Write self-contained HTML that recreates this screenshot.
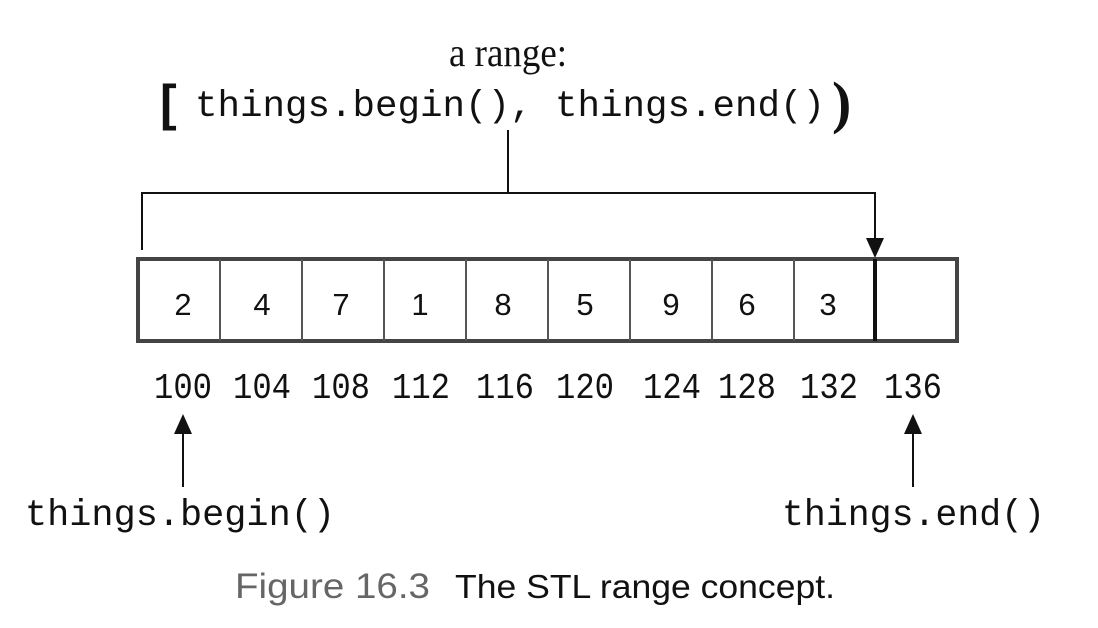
<!DOCTYPE html>
<html><head><style>
html,body{margin:0;padding:0;background:#fff;}
svg{display:block}
.m{font-family:"Liberation Mono",monospace;fill:#111}
</style></head><body>
<svg width="1098" height="628" viewBox="0 0 1098 628" xmlns="http://www.w3.org/2000/svg">
<text x="508" y="66" text-anchor="middle" font-family="Liberation Serif,serif" font-size="40" fill="#111" textLength="118" lengthAdjust="spacingAndGlyphs">a range:</text>
<text x="160" y="120" font-family="Liberation Sans,sans-serif" font-weight="bold" font-size="50" fill="#111">[</text>
<text class="m" x="195" y="116" font-size="37" textLength="630" lengthAdjust="spacingAndGlyphs">things.begin(), things.end()</text>
<text x="832" y="122" font-family="Liberation Serif,serif" font-weight="bold" font-size="58" fill="#111">)</text>
<g stroke="#111" stroke-width="2" fill="none">
<line x1="508" y1="130" x2="508" y2="193"/>
<polyline points="142,250 142,193 875,193 875,242"/>
</g>
<polygon points="866,238 884,238 875,258" fill="#111"/>
<rect x="138" y="259" width="819" height="82" fill="#fff" stroke="#444" stroke-width="4"/>
<g stroke="#555" stroke-width="2">
<line x1="220" y1="259" x2="220" y2="341"/><line x1="302" y1="259" x2="302" y2="341"/>
<line x1="384" y1="259" x2="384" y2="341"/><line x1="466" y1="259" x2="466" y2="341"/>
<line x1="548" y1="259" x2="548" y2="341"/><line x1="630" y1="259" x2="630" y2="341"/>
<line x1="712" y1="259" x2="712" y2="341"/><line x1="794" y1="259" x2="794" y2="341"/>
</g>
<line x1="875" y1="259" x2="875" y2="341" stroke="#111" stroke-width="4"/>
<g font-family="Liberation Sans,sans-serif" font-size="31" fill="#111" text-anchor="middle">
<text x="183" y="315">2</text><text x="262" y="315">4</text><text x="341" y="315">7</text>
<text x="420" y="315">1</text><text x="503" y="315">8</text><text x="585" y="315">5</text>
<text x="671" y="315">9</text><text x="747" y="315">6</text><text x="828" y="315">3</text>
</g>
<g class="m" font-size="36" text-anchor="middle">
<text x="183" y="398" textLength="58" lengthAdjust="spacingAndGlyphs">100</text><text x="262" y="398" textLength="58" lengthAdjust="spacingAndGlyphs">104</text><text x="341" y="398" textLength="58" lengthAdjust="spacingAndGlyphs">108</text>
<text x="421" y="398" textLength="58" lengthAdjust="spacingAndGlyphs">112</text><text x="505" y="398" textLength="58" lengthAdjust="spacingAndGlyphs">116</text><text x="585" y="398" textLength="58" lengthAdjust="spacingAndGlyphs">120</text>
<text x="672" y="398" textLength="58" lengthAdjust="spacingAndGlyphs">124</text><text x="747" y="398" textLength="58" lengthAdjust="spacingAndGlyphs">128</text><text x="829" y="398" textLength="58" lengthAdjust="spacingAndGlyphs">132</text>
<text x="913" y="398" textLength="58" lengthAdjust="spacingAndGlyphs">136</text>
</g>
<g stroke="#111" stroke-width="2"><line x1="183" y1="430" x2="183" y2="487"/><line x1="913" y1="430" x2="913" y2="487"/></g>
<polygon points="174,434 192,434 183,414" fill="#111"/>
<polygon points="904,434 922,434 913,414" fill="#111"/>
<text class="m" x="25" y="525" font-size="37" textLength="310" lengthAdjust="spacingAndGlyphs">things.begin()</text>
<text class="m" x="782" y="525" font-size="37" textLength="263" lengthAdjust="spacingAndGlyphs">things.end()</text>
<text x="235" y="598" font-family="Liberation Sans,sans-serif" font-size="35" fill="#666" textLength="195" lengthAdjust="spacingAndGlyphs">Figure 16.3</text>
<text x="455" y="598" font-family="Liberation Sans,sans-serif" font-size="33" fill="#111" textLength="380" lengthAdjust="spacingAndGlyphs">The STL range concept.</text>
</svg>
</body></html>
